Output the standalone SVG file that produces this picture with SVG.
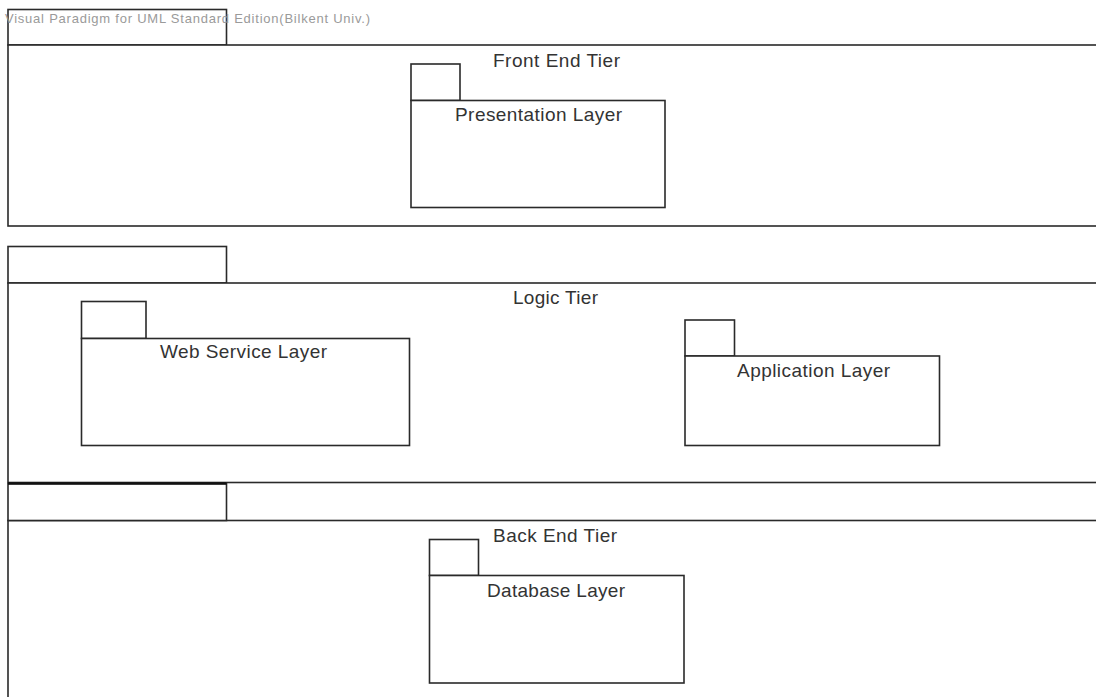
<svg xmlns="http://www.w3.org/2000/svg" width="1096" height="697" viewBox="0 0 1096 697">
<style>
.box{fill:#fff;stroke:#2a2a2a;stroke-width:1.6}
.lbl{font-family:"Liberation Sans",Arial,sans-serif;font-size:19px;fill:#333;text-anchor:start}
.wm{font-family:"Liberation Sans",Arial,sans-serif;font-size:13px;fill:#9a9a9a}
</style>
<rect width="1096" height="697" fill="#fff"/>
<g id="front-end-tier">
<rect class="box" x="8" y="9.5" width="218.5" height="35.5"/>
<rect class="box" x="8" y="45" width="1100" height="181"/>
<text class="lbl" x="493" y="67" textLength="127">Front End Tier</text>
</g>
<g id="presentation-layer">
<rect class="box" x="411" y="64" width="49" height="36.5"/>
<rect class="box" x="411" y="100.5" width="254" height="107"/>
<text class="lbl" x="455" y="121" textLength="167">Presentation Layer</text>
</g>
<g id="logic-tier">
<rect class="box" x="8" y="246.5" width="218.5" height="36.5"/>
<rect class="box" x="8" y="283" width="1100" height="199.5"/>
<text class="lbl" x="513" y="304" textLength="85">Logic Tier</text>
</g>
<g id="web-service-layer">
<rect class="box" x="81.5" y="301.5" width="64.5" height="37"/>
<rect class="box" x="81.5" y="338.5" width="328" height="107"/>
<text class="lbl" x="160" y="358" textLength="167">Web Service Layer</text>
</g>
<g id="application-layer">
<rect class="box" x="685" y="320" width="49.5" height="36"/>
<rect class="box" x="685" y="356" width="254.5" height="89.5"/>
<text class="lbl" x="737" y="377" textLength="153">Application Layer</text>
</g>
<g id="back-end-tier">
<rect class="box" x="8" y="520.5" width="1100" height="200"/>
<rect class="box" x="8" y="483.5" width="218.5" height="37"/>
<line x1="8" y1="483.5" x2="226.5" y2="483.5" stroke="#111" stroke-width="2.5"/>
<text class="lbl" x="493" y="542" textLength="124">Back End Tier</text>
</g>
<g id="database-layer">
<rect class="box" x="429.5" y="539.5" width="49" height="36"/>
<rect class="box" x="429.5" y="575.5" width="254.5" height="107.5"/>
<text class="lbl" x="487" y="597" textLength="138">Database Layer</text>
</g>
<g id="connectors"></g>
<text class="wm" x="5" y="23" textLength="365">Visual Paradigm for UML Standard Edition(Bilkent Univ.)</text>
</svg>
